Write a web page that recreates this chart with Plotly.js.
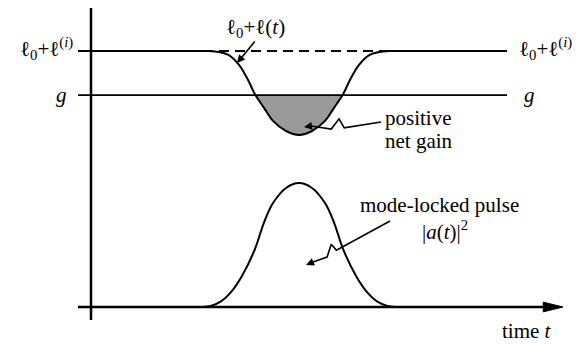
<!DOCTYPE html>
<html>
<head>
<meta charset="utf-8">
<script src="https://cdn.plot.ly/plotly-3.0.1.min.js"></script>
<style>
html,body{margin:0;padding:0;background:#fff}
#chart text{font-family:'Liberation Serif' !important}
</style>
</head>
<body>
<div id="chart" style="width:578px;height:345px"></div>
<script>
// Loss l0 + l(t): flat at l0 + l(i), saturated down while the pulse passes
const lossT = [-0.25, 2.0, 2.27, 2.46, 2.65, 2.85, 3.02, 3.15, 3.33, 3.5, 3.75, 4.0, 4.25, 4.5, 4.67, 4.85, 4.98, 5.15, 5.35, 5.54, 5.73, 6.0, 8.0];
const lossL = [10, 10, 10, 9.96, 9.84, 9.45, 8.87, 8.32, 7.77, 7.27, 6.875, 6.72, 6.875, 7.27, 7.77, 8.32, 8.87, 9.45, 9.84, 9.96, 10, 10, 10];

// Mode-locked pulse intensity |a(t)|^2
const pulseT = [2.15, 2.3, 2.5, 2.7, 2.9, 3.15, 3.33, 3.5, 3.75, 4.0, 4.25, 4.5, 4.67, 4.85, 5.1, 5.3, 5.5, 5.7, 5.85];
const pulseI = [0, 0.04, 0.22, 0.6, 1.2, 2.25, 3.32, 4.06, 4.65, 4.84, 4.65, 4.06, 3.32, 2.25, 1.2, 0.6, 0.22, 0.04, 0];

// Levels
const unsatLoss = 10;     // l0 + l(i)
const gainLevel = 8.28;   // g
const levelSpan = [-0.25, 8.0];
const dashSpan = [1.846, 6.077];

// Axis extents
const tAxis = [-0.25, 9.077];
const yAxisSpan = [-0.508, 11.68];

// Text
const lblLoss = 'ℓ<sub>0</sub>+ℓ<sup>(<i>i</i>)</sup>';
const lblLossT = 'ℓ<sub>0</sub>+ℓ(<i>t</i>)';
const lblGain = '<i>g</i>';
const lblNet = ['positive', 'net gain'];
const lblPulse = ['mode-locked pulse', '|<i>a</i>(<i>t</i>)|<sup>2</sup>'];
const lblTime = 'time <i>t</i>';

// Shaded region where the loss falls below the gain
const fillT = [], fillY = [];
lossT.forEach((t, i) => {
  if (lossL[i] <= 8.32) { fillT.push(t); fillY.push(Math.min(lossL[i], gainLevel)); }
});

const black = '#000';
const serifFamily = 'Liberation Serif';

const traces = [
  {x: fillT, y: fillY, mode: 'lines', fill: 'toself', fillcolor: '#9a9a9a',
   line: {width: 0, shape: 'spline', color: 'rgba(0,0,0,0)'}, hoverinfo: 'skip'},
  {x: levelSpan, y: [gainLevel, gainLevel], mode: 'lines', line: {color: black, width: 1.8}},
  {x: dashSpan, y: [unsatLoss, unsatLoss], mode: 'lines', line: {color: black, width: 1.8, dash: '10px,6px'}},
  {x: lossT, y: lossL, mode: 'lines', line: {color: black, width: 2, shape: 'spline', smoothing: 1}},
  {x: pulseT, y: pulseI, mode: 'lines', line: {color: black, width: 2, shape: 'spline', smoothing: 1}},
  // wavy leader lines
  {x: [5.577, 4.87, 4.77, 4.62, 4.231], y: [7.227, 7.0, 7.35, 6.95, 7.07],
   mode: 'lines', line: {color: black, width: 1.6}},
  {x: [5.75, 4.72, 4.62, 4.54, 4.269], y: [3.359, 2.22, 2.45, 1.95, 1.758],
   mode: 'lines', line: {color: black, width: 1.6}}
];

function arrow(x, y, ax, ay) {
  return {x: x, y: y, ax: ax, ay: ay, axref: 'x', ayref: 'y', xref: 'x', yref: 'y',
          text: '', showarrow: true, arrowhead: 2, arrowsize: 1, arrowwidth: 1.6, arrowcolor: black};
}
function label(text, x, y, xanchor) {
  return {x: x, y: y, xref: 'x', yref: 'y', text: text, showarrow: false,
          font: {family: serifFamily, size: 21, color: black},
          xanchor: xanchor, yanchor: 'middle', align: xanchor === 'center' ? 'center' : 'left'};
}

const annotations = [
  arrow(2.808, 9.53, 3.173, 10.43),
  arrow(4.096, 7.031, 4.231, 7.07),
  arrow(4.135, 1.641, 4.269, 1.758),
  label(lblLoss, -0.308, unsatLoss + 0.1, 'right'),
  label(lblLoss, 8.19, unsatLoss + 0.1, 'left'),
  label(lblGain, -0.42, gainLevel, 'right'),
  label(lblGain, 8.29, gainLevel, 'left'),
  label(lblLossT, 3.154, 10.9, 'center'),
  label(lblNet[0], 5.615, 7.38, 'left'),
  label(lblNet[1], 5.615, 6.48, 'left'),
  label(lblPulse[0], 6.71, 3.98, 'center'),
  label(lblPulse[1], 6.81, 2.97, 'center'),
  label(lblTime, 7.865, -0.94, 'left')
];

const shapes = [
  {type: 'line', xref: 'x', yref: 'y', x0: 0, x1: 0, y0: yAxisSpan[0], y1: yAxisSpan[1], line: {color: black, width: 2.5}},
  {type: 'line', xref: 'x', yref: 'y', x0: tAxis[0], x1: tAxis[1] - 0.3, y0: 0, y1: 0, line: {color: black, width: 2.5}},
  {type: 'path', xref: 'x', yref: 'y',
   path: `M ${tAxis[1]},0 L ${tAxis[1] - 0.38},0.19 L ${tAxis[1] - 0.38},-0.19 Z`,
   fillcolor: black, line: {color: black, width: 1}}
];

const layout = {
  width: 578, height: 345, autosize: false,
  margin: {l: 0, r: 0, t: 0, b: 0, pad: 0},
  paper_bgcolor: '#fff', plot_bgcolor: '#fff',
  showlegend: false,
  xaxis: {range: [-1.75, 9.365], visible: false, fixedrange: true},
  yaxis: {range: [-1.484, 11.992], visible: false, fixedrange: true},
  annotations: annotations,
  shapes: shapes
};

Plotly.newPlot('chart', traces, layout, {staticPlot: true, displayModeBar: false});
</script>
</body>
</html>
